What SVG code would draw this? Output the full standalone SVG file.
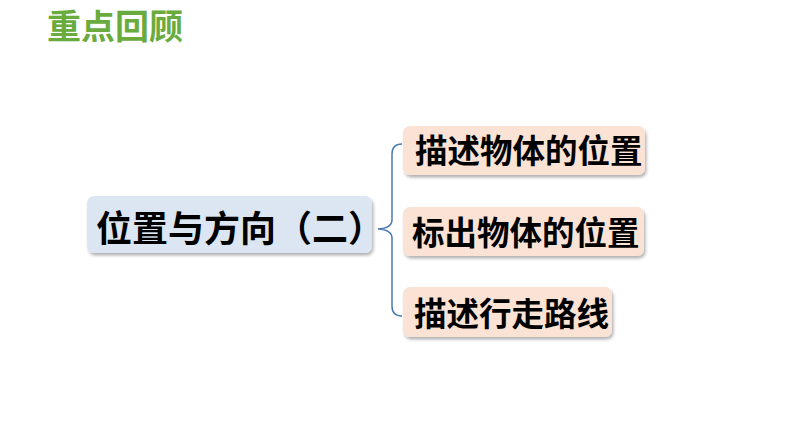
<svg xmlns="http://www.w3.org/2000/svg" width="794" height="447" viewBox="0 0 794 447">
<defs>
<filter id="sh" x="-10%" y="-20%" width="120%" height="150%">
<feDropShadow dx="1.5" dy="2.5" stdDeviation="1.5" flood-color="#000" flood-opacity="0.3"/>
</filter>
</defs>
<style>
.t{font-family:"Noto Sans CJK SC","Noto Sans CJK JP",sans-serif;fill:#000;font-weight:bold;}
.main{fill:#dce6f2;filter:url(#sh);}
.sub{fill:#fae3d5;filter:url(#sh);}
.br{fill:none;stroke:#4a7ab0;stroke-width:1.5;}
</style>
<rect width="794" height="447" fill="#fff"/>
<text x="47" y="39" style="font-family:'Noto Sans CJK SC',sans-serif;font-weight:bold;font-size:34px;fill:#6aab3e">重点回顾</text>
<g id="connectors">
<path class="br" d="M402,144 Q392,144 392,154 L392,220 Q392,228 378,229 Q392,230 392,238 L392,306 Q392,316 402,316"/>
</g>
<g id="node-main">
<rect class="main" x="87" y="196" width="285" height="57" rx="7"/>
<text class="t" x="96" y="242" style="font-size:36px">位置与方向（二）</text>
</g>
<g id="node-1">
<rect class="sub" x="403" y="126" width="242" height="49" rx="7"/>
<text class="t" x="415" y="163" style="font-size:32.5px">描述物体的位置</text>
</g>
<g id="node-2">
<rect class="sub" x="403" y="207" width="241" height="49" rx="7"/>
<text class="t" x="412" y="245" style="font-size:32.5px">标出物体的位置</text>
</g>
<g id="node-3">
<rect class="sub" x="403" y="287" width="209" height="50" rx="7"/>
<text class="t" x="414" y="326" style="font-size:32.5px">描述行走路线</text>
</g>
</svg>
